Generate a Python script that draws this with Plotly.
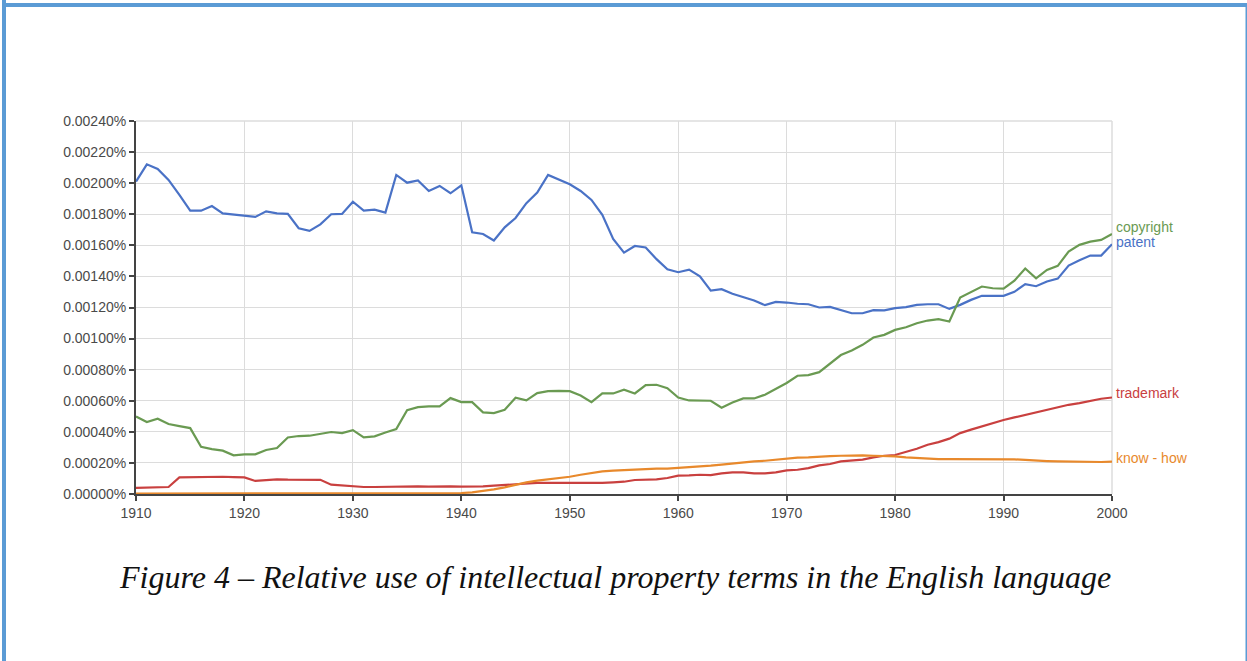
import plotly.graph_objects as go

years = list(range(1910, 2001))

patent = [2.010, 2.121, 2.091, 2.021, 1.924, 1.823, 1.823, 1.853, 1.806, 1.798,
          1.789, 1.783, 1.819, 1.806, 1.802, 1.710, 1.693, 1.735, 1.800, 1.802,
          1.881, 1.823, 1.830, 1.811, 2.053, 2.003, 2.018, 1.950, 1.982, 1.935,
          1.986, 1.684, 1.673, 1.631, 1.716, 1.776, 1.871, 1.939, 2.053, 2.025,
          1.993, 1.950, 1.892, 1.796, 1.641, 1.553, 1.596, 1.586, 1.511, 1.446,
          1.427, 1.444, 1.400, 1.309, 1.318, 1.288, 1.268, 1.245, 1.215, 1.236,
          1.232, 1.224, 1.221, 1.200, 1.204, 1.181, 1.163, 1.163, 1.183, 1.181,
          1.196, 1.202, 1.217, 1.221, 1.221, 1.191, 1.217, 1.249, 1.275, 1.275,
          1.275, 1.301, 1.350, 1.337, 1.367, 1.386, 1.470, 1.504, 1.534, 1.534,
          1.607]

copyright = [0.499, 0.463, 0.484, 0.450, 0.437, 0.424, 0.304, 0.289, 0.279, 0.249,
             0.255, 0.255, 0.283, 0.296, 0.364, 0.373, 0.375, 0.386, 0.399, 0.392,
             0.411, 0.364, 0.371, 0.396, 0.418, 0.540, 0.559, 0.564, 0.564, 0.617,
             0.591, 0.591, 0.525, 0.521, 0.542, 0.619, 0.602, 0.649, 0.662, 0.664,
             0.662, 0.634, 0.591, 0.647, 0.647, 0.671, 0.647, 0.701, 0.703, 0.681,
             0.621, 0.602, 0.599, 0.600, 0.555, 0.589, 0.615, 0.615, 0.639, 0.677,
             0.714, 0.761, 0.765, 0.784, 0.842, 0.894, 0.924, 0.960, 1.007, 1.024,
             1.056, 1.073, 1.099, 1.116, 1.125, 1.110, 1.264, 1.298, 1.335, 1.324,
             1.322, 1.373, 1.451, 1.388, 1.442, 1.468, 1.560, 1.603, 1.624, 1.635,
             1.673]

trademark = [0.039, 0.041, 0.045, 0.045, 0.107, 0.109, 0.109, 0.111, 0.111, 0.109,
             0.107, 0.084, 0.088, 0.094, 0.092, 0.092, 0.092, 0.091, 0.060, 0.054,
             0.047, 0.045, 0.045, 0.047, 0.049, 0.051, 0.049, 0.047, 0.049, 0.049,
             0.047, 0.047, 0.049, 0.054, 0.058, 0.061, 0.069, 0.071, 0.071, 0.071,
             0.071, 0.069, 0.069, 0.071, 0.075, 0.079, 0.090, 0.094, 0.094, 0.103,
             0.118, 0.120, 0.124, 0.122, 0.133, 0.139, 0.139, 0.133, 0.133, 0.139,
             0.152, 0.156, 0.167, 0.184, 0.193, 0.210, 0.216, 0.221, 0.236, 0.246,
             0.251, 0.270, 0.291, 0.317, 0.334, 0.356, 0.392, 0.414, 0.435, 0.456,
             0.476, 0.493, 0.510, 0.525, 0.542, 0.557, 0.574, 0.585, 0.600, 0.613,
             0.621]

knowhow = [0.003, 0.003, 0.003, 0.003, 0.003, 0.003, 0.003, 0.003, 0.003, 0.003,
           0.003, 0.003, 0.003, 0.003, 0.003, 0.003, 0.003, 0.003, 0.003, 0.003,
           0.003, 0.003, 0.003, 0.003, 0.003, 0.003, 0.003, 0.003, 0.003, 0.004,
           0.006, 0.011, 0.019, 0.030, 0.043, 0.060, 0.075, 0.086, 0.094, 0.103,
           0.111, 0.124, 0.137, 0.146, 0.150, 0.154, 0.159, 0.161, 0.163, 0.163,
           0.167, 0.171, 0.176, 0.182, 0.189, 0.197, 0.204, 0.210, 0.214, 0.221,
           0.227, 0.234, 0.236, 0.242, 0.244, 0.246, 0.249, 0.249, 0.246, 0.246,
           0.242, 0.236, 0.231, 0.227, 0.225, 0.225, 0.225, 0.227, 0.225, 0.225,
           0.225, 0.223, 0.219, 0.214, 0.212, 0.210, 0.208, 0.206, 0.206, 0.206,
           0.208]

series_names = ["patent", "copyright", "trademark", "know - how"]
series_data = [patent, copyright, trademark, knowhow]
series_colors = ["#4a72c6", "#6a9a52", "#c9403f", "#e8892c"]
label_shift = [2, 7, 4, 4]

y_ticks = [i * 0.0002 for i in range(13)]
y_ticktext = [f"{v:.5f}%" for v in y_ticks]
x_ticks = list(range(1910, 2001, 10))
caption = "Figure 4 \u2013 Relative use of intellectual property terms in the English language"

W, H = 1247, 661
L, R, T, B = 136, 1112, 121, 494

fig = go.Figure()
for name, vals, col in zip(series_names, series_data, series_colors):
    fig.add_trace(go.Scatter(x=years, y=[v / 1000 for v in vals], mode="lines",
                             name=name, line=dict(color=col, width=2.2)))


def px_x(p):
    return (p - L) / (R - L)


def px_y(p):
    return (B - p) / (B - T)


annotations = []
for name, vals, col, sh in zip(series_names, series_data, series_colors, label_shift):
    annotations.append(dict(x=years[-1], y=vals[-1] / 1000, xref="x", yref="y",
                            text=name, showarrow=False, xanchor="left", yanchor="middle",
                            xshift=2, yshift=sh,
                            font=dict(family="Arial, Liberation Sans, sans-serif", size=14, color=col)))
annotations.append(dict(x=px_x(615), y=px_y(577), xref="paper", yref="paper",
                        text="<i>" + caption + "</i>", showarrow=False, xanchor="center", yanchor="middle",
                        font=dict(family="Liberation Serif, Times New Roman, serif", size=32, color="#111")))

border_col = "#5b9bd5"
shapes = [
    dict(type="rect", xref="paper", yref="paper", x0=px_x(2), x1=px_x(6), y0=px_y(H + 5), y1=px_y(0),
         fillcolor=border_col, line=dict(width=0), layer="above"),
    dict(type="rect", xref="paper", yref="paper", x0=px_x(6), x1=px_x(W + 5), y0=px_y(7), y1=px_y(3),
         fillcolor=border_col, line=dict(width=0), layer="above"),
    dict(type="rect", xref="paper", yref="paper", x0=px_x(1245.5), x1=px_x(1247), y0=px_y(H + 5), y1=px_y(3),
         fillcolor=border_col, line=dict(width=0), layer="above"),
    dict(type="line", xref="paper", yref="paper", x0=0, x1=1, y0=1, y1=1,
         line=dict(color="#dddddd", width=1.5), layer="below"),
    dict(type="line", xref="paper", yref="paper", x0=1, x1=1, y0=0, y1=1,
         line=dict(color="#dddddd", width=1.5), layer="below"),
]

tick_font = dict(family="Arial, Liberation Sans, sans-serif", size=14, color="#4a4a4a")

fig.update_layout(
    width=W, height=H,
    margin=dict(l=L, r=W - R, t=T, b=H - B, autoexpand=False),
    paper_bgcolor="white", plot_bgcolor="white",
    showlegend=False,
    annotations=annotations,
    shapes=shapes,
    xaxis=dict(range=[1910, 2000], tickvals=x_ticks, showgrid=True, gridcolor="#dcdcdc", gridwidth=1,
               showline=True, linecolor="#444", linewidth=2, ticks="outside", tickcolor="#444",
               ticklen=5, tickwidth=2, zeroline=False, tickfont=tick_font),
    yaxis=dict(range=[0, 0.0024], tickvals=y_ticks, ticktext=y_ticktext,
               showgrid=True, gridcolor="#dcdcdc", gridwidth=1,
               showline=True, linecolor="#444", linewidth=2, ticks="outside", tickcolor="#444",
               ticklen=5, tickwidth=2, zeroline=False, tickfont=tick_font),
)

fig.write_html("out.html", config={"displayModeBar": False},
               post_script="document.body.style.margin='0';document.body.style.padding='0';")
